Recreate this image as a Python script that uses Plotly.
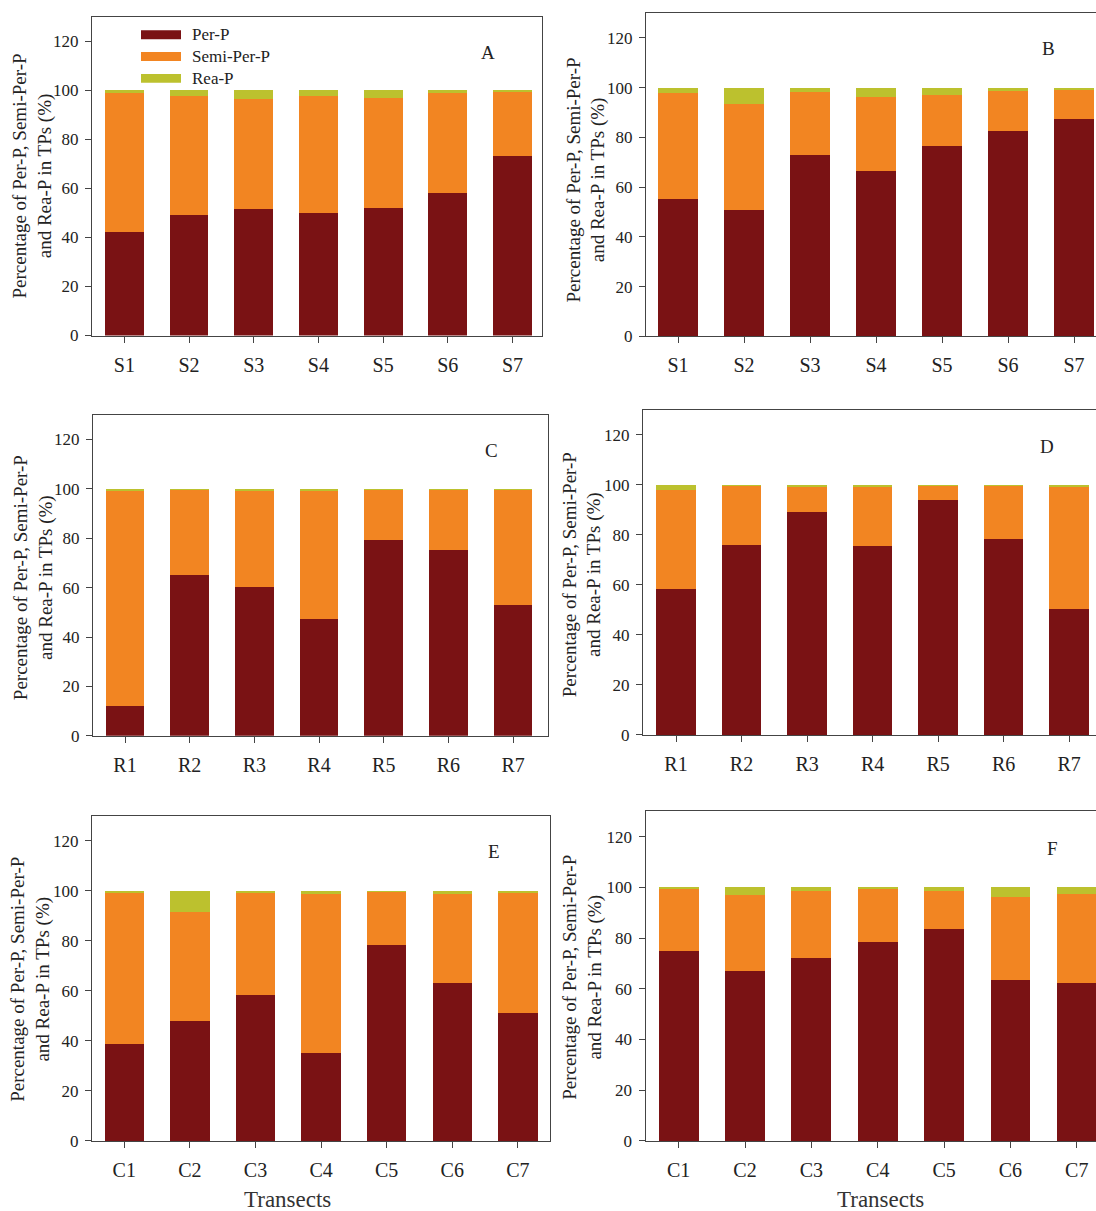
import plotly.graph_objects as go

W, H = 1096, 1211

# Category labels for each transect group
cats_S = ["S1", "S2", "S3", "S4", "S5", "S6", "S7"]
cats_R = ["R1", "R2", "R3", "R4", "R5", "R6", "R7"]
cats_C = ["C1", "C2", "C3", "C4", "C5", "C6", "C7"]

# Percentages of Per-P, Semi-Per-P and Rea-P for each panel
A_per = [42.2, 49.1, 51.5, 49.9, 51.9, 58.0, 73.3]
A_semi = [56.8, 48.7, 44.9, 47.9, 45.1, 41.0, 26.2]
A_rea = [1.0, 2.2, 3.6, 2.2, 3.0, 1.0, 0.5]

B_per = [55.4, 50.8, 73.0, 66.6, 76.5, 82.4, 87.5]
B_semi = [42.5, 42.7, 25.3, 29.5, 20.7, 16.4, 11.8]
B_rea = [2.1, 6.5, 1.7, 3.9, 2.8, 1.2, 0.7]

C_per = [12.0, 65.0, 60.2, 47.4, 79.2, 75.2, 53.0]
C_semi = [87.0, 34.8, 39.2, 51.6, 20.6, 24.6, 46.7]
C_rea = [1.0, 0.2, 0.6, 1.0, 0.2, 0.2, 0.3]

D_per = [58.4, 76.0, 89.0, 75.3, 94.0, 78.4, 50.3]
D_semi = [39.4, 23.7, 10.6, 23.7, 5.7, 21.3, 48.7]
D_rea = [2.2, 0.3, 0.4, 1.0, 0.3, 0.3, 1.0]

E_per = [38.8, 48.0, 58.3, 35.0, 78.4, 63.0, 51.0]
E_semi = [60.7, 43.6, 41.0, 63.9, 21.3, 35.6, 48.2]
E_rea = [0.5, 8.4, 0.7, 1.1, 0.3, 1.4, 0.8]

F_per = [75.0, 67.0, 72.0, 78.5, 83.5, 63.3, 62.3]
F_semi = [24.5, 30.0, 26.5, 21.0, 15.0, 32.7, 35.2]
F_rea = [0.5, 3.0, 1.5, 0.5, 1.5, 4.0, 2.5]

series_names = ["Per-P", "Semi-Per-P", "Rea-P"]
colors = ["#7a1214", "#f28522", "#bcc12e"]
y_ticks = [0, 20, 40, 60, 80, 100, 120]

SERIF = "Liberation Serif, Times New Roman, serif"
AXIS_COLOR = "#444444"


def fx(px):
    return px / W


def fy(py):
    return 1 - py / H


# panel: letter, categories, data, frame (left, right, top, bottom px), x range,
# right-column flag, letter position, y-title centre
panels = [
    ("A", cats_S, (A_per, A_semi, A_rea), (92, 542, 17, 338.3), (-0.5, 6.456), False, (488, 53), (33, 178)),
    ("B", cats_S, (B_per, B_semi, B_rea), (646, 1096, 13, 339.3), (-0.485, 6.333), True, (1048, 49), (586, 182)),
    ("C", cats_R, (C_per, C_semi, C_rea), (93, 548, 418, 742), (-0.495, 6.54), False, (491, 454), (33, 583)),
    ("D", cats_R, (D_per, D_semi, D_rea), (643, 1096, 413, 741), (-0.504, 6.41), True, (1047, 450), (582, 580)),
    ("E", cats_C, (E_per, E_semi, E_rea), (92, 550, 822.5, 1150.5), (-0.492, 6.49), False, (494, 859), (31, 988)),
    ("F", cats_C, (F_per, F_semi, F_rea), (645.5, 1096, 818, 1150.5), (-0.5, 6.29), True, (1052, 856), (583, 986)),
]

fig = go.Figure()
annotations = []
shapes = []

for i, (letter, cats, data, frame, xr, right_col, lpos, tpos) in enumerate(panels):
    n = "" if i == 0 else str(i + 1)
    left, right, top, bottom = frame
    for name, vals, col in zip(series_names, data, colors):
        fig.add_trace(go.Bar(
            x=cats, y=vals, name=name, marker=dict(color=col, line=dict(width=0)),
            xaxis="x" + n, yaxis="y" + n, showlegend=False,
        ))
    fig.layout["xaxis" + n] = dict(
        domain=[fx(left), fx(right)], anchor="y" + n, range=list(xr),
        type="category", showline=True, linecolor=AXIS_COLOR, linewidth=1,
        mirror=True, ticks="outside", ticklen=6, tickcolor=AXIS_COLOR,
        tickfont=dict(family=SERIF, size=20, color="#222222"),
        ticklabelstandoff=5, showgrid=False, zeroline=False, fixedrange=True,
    )
    fig.layout["yaxis" + n] = dict(
        domain=[fy(bottom), fy(top)], anchor="x" + n, range=[0, 130],
        tickvals=y_ticks, showline=True, linecolor=AXIS_COLOR, linewidth=1,
        mirror=not right_col, ticks="outside", ticklen=6, tickcolor=AXIS_COLOR,
        tickfont=dict(family=SERIF, size=17, color="#222222"),
        ticklabelstandoff=3, showgrid=False, zeroline=False, fixedrange=True,
    )
    annotations.append(dict(
        text=letter, x=fx(lpos[0]), y=fy(lpos[1]), xref="paper", yref="paper",
        xanchor="center", yanchor="middle", showarrow=False,
        font=dict(family=SERIF, size=19, color="#222222"),
    ))
    annotations.append(dict(
        text="Percentage of Per-P, Semi-Per-P<br>and Rea-P in TPs (%)",
        x=fx(tpos[0]), y=fy(tpos[1]), xref="paper", yref="paper",
        xanchor="center", yanchor="middle", textangle=-90, showarrow=False,
        font=dict(family=SERIF, size=19, color="#222222"),
    ))

# x-axis titles under the bottom row
for cx in (287, 880):
    annotations.append(dict(
        text="Transects", x=fx(cx), y=fy(1209), xref="paper", yref="paper",
        xanchor="center", yanchor="middle", showarrow=False,
        font=dict(family=SERIF, size=23, color="#333333"),
    ))

# legend drawn in panel A
for k, (name, col) in enumerate(zip(series_names, colors)):
    cy = 35 + 22 * k
    shapes.append(dict(
        type="rect", xref="paper", yref="paper",
        x0=fx(141), x1=fx(181), y0=fy(cy + 4.5), y1=fy(cy - 4.5),
        fillcolor=col, line=dict(width=0),
    ))
    annotations.append(dict(
        text=name, x=fx(190), y=fy(cy), xref="paper", yref="paper",
        xanchor="left", yanchor="middle", showarrow=False,
        font=dict(family=SERIF, size=17, color="#222222"),
    ))

fig.update_layout(
    width=W, height=H, margin=dict(l=0, r=0, t=0, b=0),
    barmode="stack", bargap=0.4,
    paper_bgcolor="white", plot_bgcolor="white",
    annotations=annotations, shapes=shapes, showlegend=False,
)

fig.write_html("out.html")
